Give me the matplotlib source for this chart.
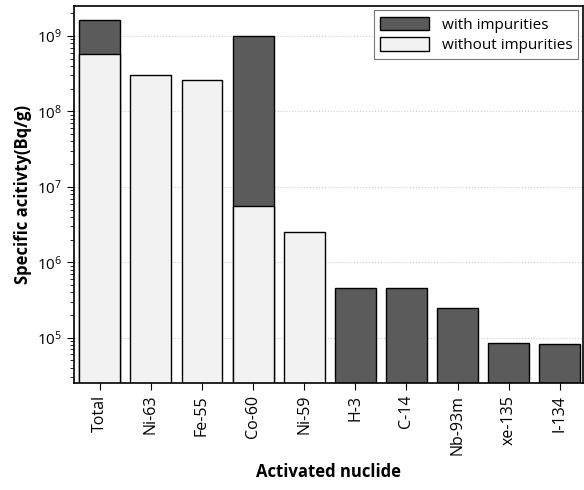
import matplotlib
matplotlib.use("Agg")
import matplotlib.pyplot as plt
from matplotlib.patches import Patch

nuclides = ["Total", "Ni-63", "Fe-55", "Co-60", "Ni-59", "H-3", "C-14", "Nb-93m", "xe-135", "I-134"]
with_impurities = [1.63e9, 0, 0, 1.0e9, 0, 4.6e5, 4.6e5, 2.5e5, 8.6e4, 8.3e4]
without_impurities = [5.8e8, 3.0e8, 2.6e8, 5.5e6, 2.5e6, 0, 0, 0, 0, 0]

dark = "#5b5b5b"
light = "#f2f2f2"

plt.rcParams["font.family"] = ["Open Sans", "DejaVu Sans"]

fig = plt.figure(figsize=(5.84, 4.90), dpi=100)
ax = fig.add_axes([0.127, 0.218, 0.871, 0.770])

x = range(len(nuclides))
w = [v if v > 0 else 1e-3 for v in with_impurities]
wo = [v if v > 0 else 1e-3 for v in without_impurities]
ax.bar(x, w, width=0.8, color=dark, edgecolor="black", linewidth=1, bottom=1)
ax.bar(x, wo, width=0.8, color=light, edgecolor="black", linewidth=1, bottom=1)

ax.set_yscale("log")
ax.set_ylim(2.5e4, 2.5e9)
ax.set_xlim(-0.5, 9.45)
ax.set_yticks([1e5, 1e6, 1e7, 1e8, 1e9])
ax.yaxis.grid(True, which="major", linestyle=":", color="#cccccc", linewidth=0.8)
ax.set_axisbelow(True)

ax.set_xticks(list(x))
ax.set_xticklabels(nuclides, rotation=90, fontsize=11.5)
ax.tick_params(axis="y", which="major", labelsize=11, length=5, direction="out")
ax.tick_params(axis="y", which="minor", length=3)
ax.tick_params(axis="x", length=5)

ax.set_xlabel("Activated nuclide", fontsize=12, fontweight="bold", labelpad=6)
ax.set_ylabel("Specific acitivty(Bq/g)", fontsize=12, fontweight="bold")

for s in ax.spines.values():
    s.set_linewidth(1.2)

handles = [Patch(facecolor=dark, edgecolor="black", label="with impurities"),
           Patch(facecolor=light, edgecolor="black", label="without impurities")]
leg = ax.legend(handles=handles, loc="upper right", fontsize=11, fancybox=False,
                framealpha=1, edgecolor="#777777", borderaxespad=0.3,
                handlelength=3.2, handleheight=1.0, labelspacing=0.3)
leg.get_frame().set_linewidth(0.8)

fig.savefig("out.png", dpi=100)
